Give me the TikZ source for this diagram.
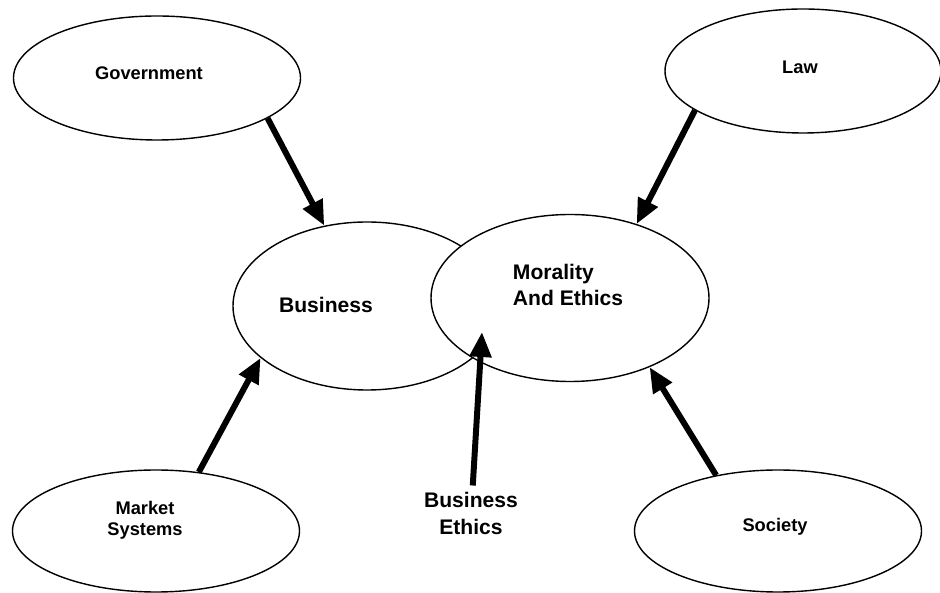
\documentclass[tikz,border=0pt]{standalone}
\usepackage{fontspec}
\setmainfont{Liberation Sans}
\usetikzlibrary{shapes.geometric,arrows.meta}

\begin{document}
\begin{tikzpicture}[
  oval/.style = {ellipse, draw, thick, fill = white, inner sep = 0pt},
  small/.style = {font = \fontsize{10.4}{12}\selectfont\bfseries, align = center},
  big/.style = {font = \fontsize{12}{14.5}\selectfont\bfseries, align = left},
  arr/.style = {line width = 3.4pt, -{Triangle[length = .5cm, width = .42cm]}}
]
\useasboundingbox (0,0) rectangle (18.8,11.84);

\node[oval, minimum width = 5.74cm, minimum height = 2.48cm] (gov) at (3.14,10.28) {};
\node[small] (govtxt) at (2.98,10.38) {Government};

\node[oval, minimum width = 5.52cm, minimum height = 2.48cm] (law) at (16.06,10.42) {};
\node[small] (lawtxt) at (16,10.5) {Law};

\node[oval, minimum width = 5.36cm, minimum height = 3.36cm] (bus) at (7.34,5.72) {};
\node[big] (bustxt) at (6.52,5.74) {Business};

\node[oval, minimum width = 5.56cm, minimum height = 3.34cm] (mor) at (11.4,5.88) {};
\node[big] (mortxt) at (11.36,6.14) {Morality\\And Ethics};

\node[oval, minimum width = 5.74cm, minimum height = 2.44cm] (mkt) at (3.12,1.22) {};
\node[small] (mkttxt) at (2.9,1.44) {Market\\Systems};

\node[oval, minimum width = 5.74cm, minimum height = 2.44cm] (soc) at (15.56,1.22) {};
\node[small] (soctxt) at (15.5,1.3) {Society};

\node[big, align = center, font = \fontsize{12}{15.4}\selectfont\bfseries] (be) at (9.42,1.58) {Business\\Ethics};
\coordinate (betip) at (9.64,5.2);

\draw[arr] (gov.-20.7) -- (bus.118);
\draw[arr] (law.200.4) -- (mor.48.4);
\draw[arr] (mkt.54.6) -- (bus.206);
\draw[arr] (soc.138.4) -- (mor.-41.2);
\draw[arr] ([xshift = 1pt]be.north) -- (betip);
\end{tikzpicture}
\end{document}
